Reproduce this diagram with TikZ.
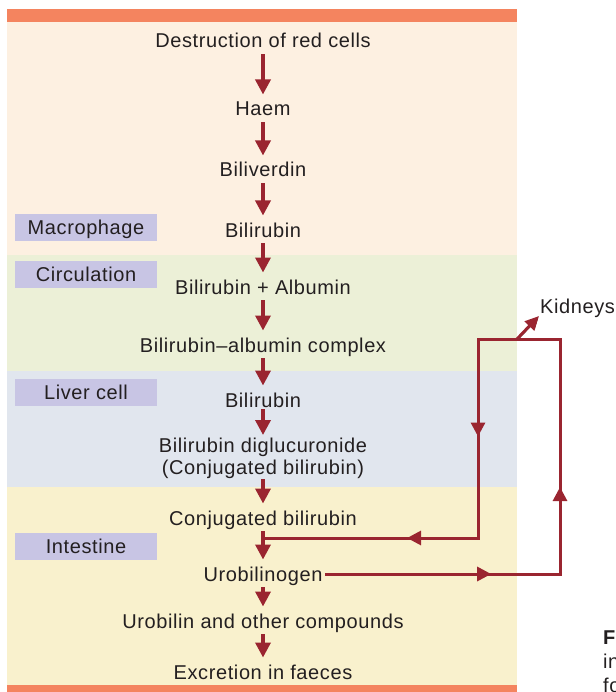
\documentclass[tikz,border=0pt]{standalone}
\usepackage{fontspec}
\setmainfont[LetterSpace=3]{Liberation Sans}
\usepackage{xcolor}
\usetikzlibrary{arrows.meta, positioning, decorations.markings}
\definecolor{bandorange}{RGB}{244, 132, 95}
\definecolor{macropeach}{RGB}{253, 240, 225}
\definecolor{circgreen}{RGB}{236, 240, 215}
\definecolor{livergrey}{RGB}{225, 230, 238}
\definecolor{gutyellow}{RGB}{249, 241, 205}
\definecolor{sitelilac}{RGB}{200, 197, 228}
\definecolor{bloodred}{RGB}{154, 37, 48}
\definecolor{inkblack}{RGB}{35, 31, 32}

\begin{document}
\begin{tikzpicture}[x=1pt, y=-1pt,
    every node/.style={font=\fontsize{20}{22}\selectfont, text=inkblack},
    stage/.style={anchor=base, inner sep=0pt, text height=14.3pt, text depth=4pt},
    site/.style={fill=sitelilac, minimum width=142pt, minimum height=27pt,
      inner sep=0pt, text height=14.3pt, text depth=0pt},
    flow/.style={bloodred, line width=3.5pt, -{Triangle[width=15pt, length=15pt]},
      shorten <=2pt, shorten >=7pt},
    route/.style={bloodred, line width=3pt, line cap=rect,
      preaction={draw=black!65, transform canvas={shift={(0.9pt,-0.9pt)}}}},
    midarrow/.style={postaction={decorate, decoration={markings,
      mark=at position #1 with {\arrow{Triangle[width=14pt, length=14pt]}}}}}]
        \clip (0,0) rectangle (615,692);

        % Compartment bands
        \fill[bandorange] (7,9) rectangle (517,22);
        \fill[macropeach] (7,22) rectangle (517,255);
        \fill[circgreen] (7,255) rectangle (517,371);
        \fill[livergrey] (7,371) rectangle (517,487);
        \fill[gutyellow] (7,487) rectangle (517,685);
        \fill[bandorange] (7,685) rectangle (517,692);

        % Compartment labels
        \node[site] (macro) at (86,227.5) {Macrophage};
        \node[site] (circ) at (86,274.5) {Circulation};
        \node[site] (liver) at (86,392.5) {Liver cell};
        \node[site] (gut) at (86,546) {Intestine};

        % Main pathway
        \node[stage] (red) at (263,48) {Destruction of red cells};
        \node[stage] (haem) at (263,116) {Haem};
        \node[stage] (verdin) at (263,177) {Biliverdin};
        \node[stage] (rubin) at (263,237) {Bilirubin};
        \node[stage] (albumin) at (263,294) {Bilirubin + Albumin};
        \node[stage] (complex) at (263,352) {Bilirubin–albumin complex};
        \node[stage] (hepatic) at (263,407) {Bilirubin};
        \node[anchor=north, inner sep=0pt, align=center] (gluc) at (263,438)
          {Bilirubin diglucuronide\\(Conjugated bilirubin)};
        \node[stage] (conj) at (263,525) {Conjugated bilirubin};
        \node[stage] (urob) at (263,581) {Urobilinogen};
        \node[stage] (urobilin) at (263,628) {Urobilin and other compounds};
        \node[stage] (faeces) at (263,679) {Excretion in faeces};

        \draw[flow] (red) -- (haem);
        \draw[flow] (haem) -- (verdin);
        \draw[flow] (verdin) -- (rubin);
        \draw[flow] (rubin) -- (albumin);
        \draw[flow] (albumin) -- (complex);
        \draw[flow] (complex) -- (hepatic);
        \draw[flow, shorten <=-2pt, shorten >=3pt] (hepatic) -- (gluc);
        \draw[flow, shorten <=0pt] (gluc) -- (conj);
        \draw[flow] (conj) -- (urob);
        \draw[flow] (urob) -- (urobilin);
        \draw[flow] (urobilin) -- (faeces);

        % Enterohepatic loop and renal branch
        \coordinate (rb) at (560,574);
        \coordinate (rt) at (560,339);
        \coordinate (lt) at (478,339);
        \coordinate (lb) at (478,538);
        \coordinate (join) at (263,538);
        \coordinate (kfork) at (517,339);
        \node[anchor=base west, inner sep=0pt] (kid) at (540,313) {Kidneys};

        \draw[route, midarrow=0.71, shorten <=4pt] (urob.east |- rb) -- (rb);
        \draw[route, midarrow=0.37] (rb) -- (rt);
        \draw[route] (rt) -- (lt);
        \draw[route, midarrow=0.49] (lt) -- (lb);
        \draw[route, midarrow=0.33] (lb) -- (join);
        \draw[route, line cap=butt, -{Triangle[width=13pt, length=14pt]}]
          (kfork) -- ([shift={(-1,3)}]kid.base west);

        % Caption running off the edge
        \node[anchor=base west, inner sep=0pt] (capa) at (603,644) {\textbf{F}};
        \node[anchor=base west, inner sep=0pt] (capb) at (603,668) {in};
        \node[anchor=base west, inner sep=0pt] (capc) at (603,692) {fo};
      \end{tikzpicture}
\end{document}
